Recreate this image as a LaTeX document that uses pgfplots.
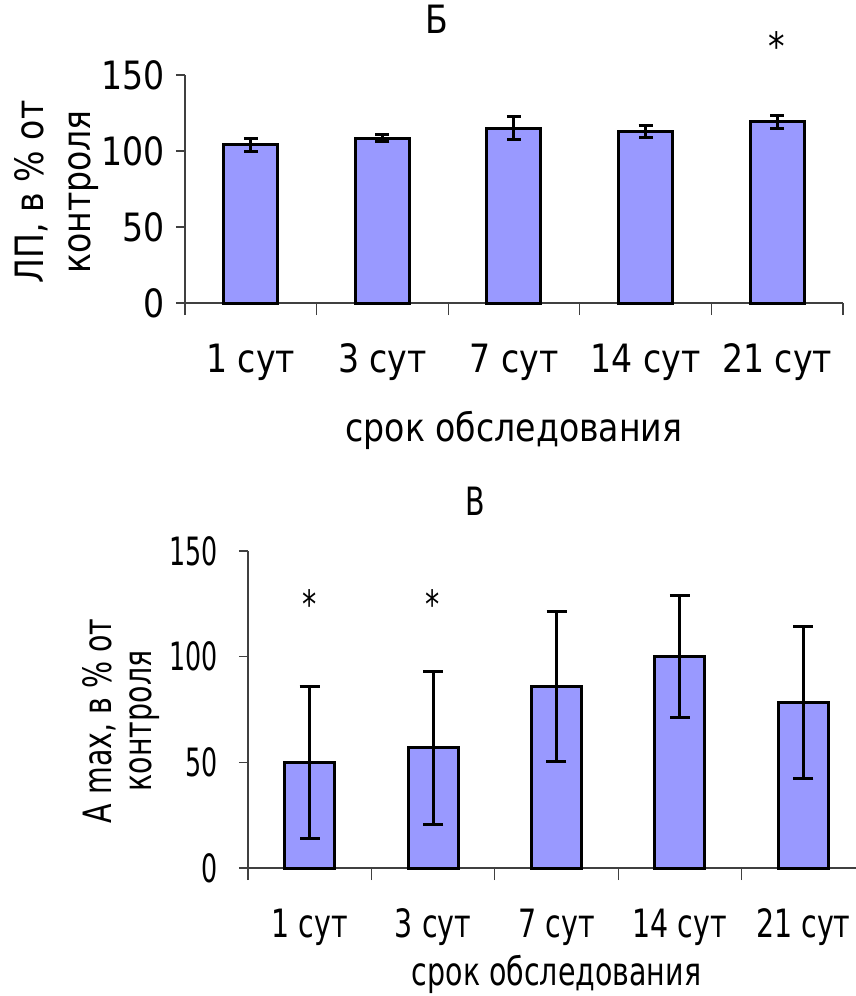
\documentclass[border=0pt]{standalone}
\usepackage{fontspec}
\setmainfont{DejaVu Sans}[FakeStretch=0.85]
\newfontfamily\narrowfont{DejaVu Sans}[FakeStretch=0.73]
\newfontfamily\narrowerfont{DejaVu Sans}[FakeStretch=0.65]
\usepackage{pgfplots}
\usepackage{pgfplotstable}
\pgfplotsset{compat=1.18}
\definecolor{barblue}{HTML}{9999FF}

% ЛП, % of control: mean and error
\pgfplotstableread{
x y e
0 104.2 4.3
1 108.5 2.1
2 114.9 7.5
3 112.7 3.8
4 119.1 4.0
}\lpdata

% A max, % of control: mean and error
\pgfplotstableread{
x y e
0 50.0 36.0
1 56.8 36.0
2 85.9 35.3
3 100.0 28.8
4 78.5 36.0
}\amaxdata

\pgfplotsset{
  panel/.style={
    scale only axis,
    axis lines=left,
    axis line style={-, black!75, line width=0.6pt},
    tick align=outside,
    xmin=-0.5, xmax=4.5, ymin=0, ymax=150,
    ytick={0,50,100,150},
    xtick={0,1,2,3,4},
    xticklabels={1 сут,3 сут,7 сут,14 сут,21 сут},
    minor xtick={-0.5,0.5,1.5,2.5,3.5,4.5},
    major x tick style={draw=none},
    major tick length=4.5pt,
    minor tick length=6pt,
    every tick/.style={black!75, line width=0.6pt},
    /pgf/number format/assume math mode=true,
    ybar,
    clip=false,
    ylabel style={anchor=center, align=center},
    title style={anchor=center},
  },
}

\begin{document}
\begin{tikzpicture}
\useasboundingbox (0,0) rectangle (428pt,-498pt);

% Panel Б
\begin{axis}[panel,
  at={(92.5pt,-151.5pt)}, anchor=south west,
  width=329pt, height=114pt,
  bar width=27pt,
  font=\fontsize{19.5}{23.5}\selectfont,
  xticklabel style={anchor=base, yshift=-30pt},
  yticklabel style={anchor=east, xshift=-2pt},
  xlabel={срок обследования},
  xlabel style={at={(axis description cs:0.5,0)}, anchor=base, yshift=-69pt},
  ylabel={ЛП, в \% от\\контроля},
  ylabel style={at={(axis description cs:-0.1945,0.487)}, rotate=0},
  title={Б},
  title style={at={(axis description cs:0.383,1.193)}},
]
\addplot[fill=barblue, draw=black, line width=1.5pt,
  error bars/.cd, y dir=both, y explicit, error mark=-,
  error bar style={black, line width=1.5pt},
  error mark options={rotate=90, black, line width=1.5pt, mark size=3.5pt}]
  table[x=x, y=y, y error=e]{\lpdata};
\node[yshift=-4pt] at (axis cs:4,174.3) {*};
\end{axis}

% Panel В
\begin{axis}[panel,
  at={(124pt,-434pt)}, anchor=south west,
  width=308.5pt, height=158.5pt,
  bar width=25pt,
  font=\narrowfont\fontsize{19.5}{20}\selectfont,
  xticklabel style={anchor=base, yshift=-30pt},
  yticklabel style={anchor=east, xshift=-7pt, font=\narrowerfont\fontsize{19.5}{20}\selectfont},
  xlabel={срок обследования},
  xlabel style={at={(axis description cs:0.5,0)}, anchor=base, yshift=-58.5pt},
  ylabel={A max, в \% от\\контроля},
  ylabel style={at={(axis description cs:-0.206,0.464)}, rotate=0},
  title={В},
  title style={at={(axis description cs:0.368,1.118)}},
]
\addplot[fill=barblue, draw=black, line width=1.5pt,
  error bars/.cd, y dir=both, y explicit, error mark=-,
  error bar style={black, line width=1.5pt},
  error mark options={rotate=90, black, line width=1.5pt, mark size=5pt}]
  table[x=x, y=y, y error=e]{\amaxdata};
\node[yshift=-4pt] at (axis cs:0,128.5) {*};
\node[yshift=-4pt] at (axis cs:1,128.5) {*};
\end{axis}
\end{tikzpicture}
\end{document}
